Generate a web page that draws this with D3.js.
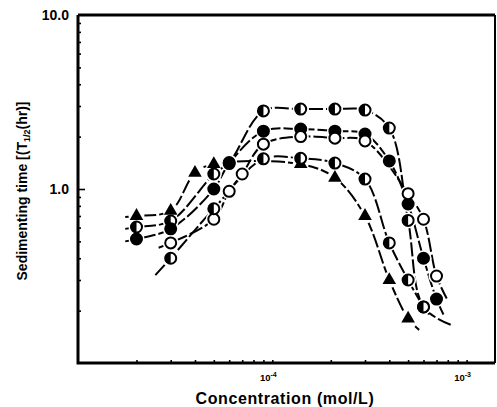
<!DOCTYPE html>
<html lang="en">
<head>
<meta charset="UTF-8">
<title>Sedimenting time</title>
<style>
  body { margin: 0; background: #fff; }
  text { font-family: "Liberation Sans", Arial, sans-serif; font-weight: bold; fill: #000; }
</style>
</head>
<body>
<div id="chart"></div>
<script src="https://d3js.org/d3.v7.min.js"></script>
<script>
// x = concentration (mol/L), y = sedimenting time (hr)
const triConc  = [2e-5, 3e-5, 4e-5, 5e-5, 1.4e-4, 2.1e-4, 3e-4, 4e-4, 5e-4];
const triTime  = [0.70, 0.75, 1.24, 1.39, 1.39, 1.16, 0.70, 0.30, 0.18];

const halfAConc = [2e-5, 3e-5, 5e-5, 6e-5, 9e-5, 1.4e-4, 2.1e-4, 3e-4, 4e-4, 5e-4, 6e-4];
const halfATime = [0.605, 0.655, 1.22, 1.42, 2.81, 2.88, 2.88, 2.84, 2.24, 0.66, 0.21];

const fillConc = [2e-5, 3e-5, 5e-5, 6e-5, 9e-5, 1.4e-4, 2.1e-4, 3e-4, 4e-4, 5e-4, 6e-4, 7e-4];
const fillTime = [0.516, 0.59, 1.0, 1.40, 2.15, 2.21, 2.15, 2.07, 1.45, 0.82, 0.40, 0.233];

const openConc = [3e-5, 5e-5, 6e-5, 7e-5, 9e-5, 1.4e-4, 2.1e-4, 3e-4, 5e-4, 6e-4, 7e-4];
const openTime = [0.49, 0.67, 0.97, 1.22, 1.81, 2.0, 1.96, 1.89, 0.94, 0.67, 0.316];

const halfBConc = [3e-5, 5e-5, 9e-5, 1.4e-4, 2.1e-4, 3e-4, 4e-4, 5e-4, 6e-4];
const halfBTime = [0.40, 0.77, 1.49, 1.50, 1.41, 1.14, 0.49, 0.30, 0.21];

// where each fitted curve starts and stops (dashed tails beyond the points)
const triTails   = [[1.75e-5, 0.69], [5.7e-4, 0.155]];
const halfATails = [[1.75e-5, 0.59], [8.4e-4, 0.165]];
const fillTails  = [[1.75e-5, 0.50], [7.6e-4, 0.19]];
const openTails  = [[2.6e-5, 0.46], [7.9e-4, 0.235]];
const halfBTails = [[2.5e-5, 0.32], [6.4e-4, 0.19]];

const xMinor = [2e-5, 3e-5, 4e-5, 5e-5, 6e-5, 7e-5, 8e-5, 9e-5, 1e-4,
                2e-4, 3e-4, 4e-4, 5e-4, 6e-4, 7e-4, 8e-4, 9e-4, 1e-3];
const xLabels = [[1e-4, "-4"], [1e-3, "-3"]];
const yMinor = [0.2, 0.3, 0.4, 0.5, 0.6, 0.7, 0.8, 0.9, 1, 2, 3, 4, 5, 6, 7, 8, 9];
const yLabels = [[10, "10.0"], [1, "1.0"]];

const W = 497, H = 407;
const margin = { top: 15, right: 2, bottom: 44, left: 78 };

const svg = d3.select("#chart").append("svg")
  .attr("width", W).attr("height", H);

const x = d3.scaleLog().domain([1e-5, 1.4e-3]).range([margin.left, W - margin.right]);
const y = d3.scaleLog().domain([0.1, 10]).range([H - margin.bottom, margin.top]);

// axes with inward ticks
const xAxis = svg.append("g")
  .attr("transform", `translate(0,${H - margin.bottom})`)
  .call(d3.axisBottom(x).tickValues(xMinor).tickSize(-3).tickFormat(""));
const yAxis = svg.append("g")
  .attr("transform", `translate(${margin.left},0)`)
  .call(d3.axisLeft(y).tickValues(yMinor).tickSize(-3).tickFormat(""));
[xAxis, yAxis].forEach(g => {
  g.select(".domain").remove();
  g.selectAll(".tick line").attr("stroke", "#000").attr("stroke-width", 1.6);
});
yAxis.selectAll(".tick line").filter(d => d === 1).attr("x2", 7);

// frame
svg.append("path")
  .attr("d", `M${x(1e-5)},${y(10)}H${x(1.4e-3)}`)
  .attr("stroke", "#000").attr("stroke-width", 3);
svg.append("path")
  .attr("d", `M${x(1.4e-3)},${y(10)}V${y(0.1)}`)
  .attr("stroke", "#000").attr("stroke-width", 2);
svg.append("path")
  .attr("d", `M${x(1e-5)},${y(10)}V${y(0.1)}H${x(1.4e-3)}`)
  .attr("fill", "none").attr("stroke", "#000").attr("stroke-width", 3);

// tick labels
yLabels.forEach(([v, s]) => {
  svg.append("text").attr("x", 69).attr("y", y(v) + 5)
    .attr("text-anchor", "end").attr("font-size", 14).text(s);
});
xLabels.forEach(([v, e]) => {
  const t = svg.append("text").attr("x", x(v) - 4).attr("y", H - margin.bottom + 18)
    .attr("text-anchor", "middle").attr("font-size", 9.5);
  t.append("tspan").text("10");
  t.append("tspan").attr("font-size", 7).attr("dy", -4).text(e);
});

// axis titles
svg.append("text").attr("x", 285).attr("y", 404)
  .attr("text-anchor", "middle").attr("font-size", 16)
  .attr("letter-spacing", 0.6).text("Concentration (mol/L)");
const yt = svg.append("text")
  .attr("transform", `translate(27,${(margin.top + H - margin.bottom) / 2 + 2}) rotate(-90)`)
  .attr("text-anchor", "middle").attr("font-size", 14);
yt.append("tspan").text("Sedimenting time [(T");
yt.append("tspan").attr("font-size", 9).attr("dy", 3).text("1/2");
yt.append("tspan").attr("dy", -3).text("(hr)]");

// series
const series = [
  { conc: triConc,   time: triTime,   tails: triTails,   mark: "tri" },
  { conc: halfAConc, time: halfATime, tails: halfATails, mark: "half" },
  { conc: fillConc,  time: fillTime,  tails: fillTails,  mark: "fill" },
  { conc: openConc,  time: openTime,  tails: openTails,  mark: "open" },
  { conc: halfBConc, time: halfBTime, tails: halfBTails, mark: "half" }
];

const line = d3.line()
  .x(d => x(d[0])).y(d => y(d[1]))
  .curve(d3.curveCatmullRom.alpha(0.5));

series.forEach(s => {
  const pts = [s.tails[0]].concat(s.conc.map((c, i) => [c, s.time[i]]), [s.tails[1]]);
  svg.append("path").datum(pts)
    .attr("d", line)
    .attr("fill", "none").attr("stroke", "#000")
    .attr("stroke-width", 2).attr("stroke-dasharray", "14,3");
});

// white halos make the little gaps around markers
series.forEach(s => {
  svg.append("g").selectAll("circle")
    .data(s.conc.map((c, i) => [c, s.time[i]]))
    .join("circle")
    .attr("cx", d => x(d[0])).attr("cy", d => y(d[1]))
    .attr("r", 8).attr("fill", "#fff");
});

const r = 5.5;
series.forEach(s => {
  const g = svg.append("g").selectAll("g")
    .data(s.conc.map((c, i) => [c, s.time[i]]))
    .join("g")
    .attr("transform", d => `translate(${x(d[0])},${y(d[1])})`);
  if (s.mark === "tri") {
    g.append("path").attr("d", d3.symbol(d3.symbolTriangle, 80)).attr("fill", "#000");
  } else {
    g.append("circle").attr("r", r)
      .attr("fill", s.mark === "fill" ? "#000" : "#fff")
      .attr("stroke", "#000").attr("stroke-width", 2);
    if (s.mark === "half") {
      g.append("path").attr("d", `M0,${-r}A${r},${r} 0 0 0 0,${r}Z`).attr("fill", "#000");
    }
  }
});
</script>
</body>
</html>
